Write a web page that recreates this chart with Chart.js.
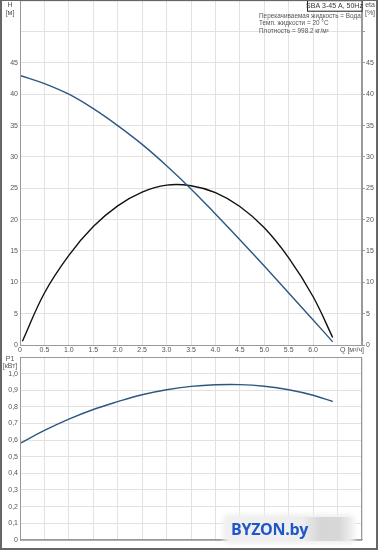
<!DOCTYPE html>
<html>
<head>
<meta charset="utf-8">
<script src="https://cdn.jsdelivr.net/npm/chart.js@4"></script>
<style>
  body{margin:0;background:#fff;}
  #wrap{position:relative;width:378px;height:550px;overflow:hidden;background:#fff;}
  #top{position:absolute;left:0;top:0;}
  #bot{position:absolute;left:0;top:350px;}
  #frame{position:absolute;left:0;top:0;width:374px;height:547px;border:2px solid #666;border-top-width:1px;pointer-events:none;}
  #mark{position:absolute;left:226px;top:517px;width:126px;height:24px;
    background:linear-gradient(90deg,#f0f0f0 0%,#eeeeee 60%,#d6d6d6 75%,#d8d8d8 90%,#efefef 100%);
    box-shadow:0 0 5px 3px #f0f0f0;border-radius:3px;}
  #mark span{position:absolute;left:5px;top:1px;font:bold 16px "Open Sans",sans-serif;color:#1f57c9;letter-spacing:-0.3px;}
</style>
</head>
<body>
<div id="wrap">
  <canvas id="top" width="378" height="361"></canvas>
  <canvas id="bot" width="378" height="196"></canvas>
  <div id="mark"><span>BYZON.by</span></div>
  <div id="frame"></div>
</div>
<script>
// pump curves SBA 3-45 A, 50Hz
const qH     = [0, 0.5, 1.0, 1.5, 2.0, 2.5, 3.0, 3.5, 4.0, 4.5, 5.0, 5.5, 6.0, 6.4];
const headM  = [43, 41.7, 40.0, 37.7, 35.0, 32.0, 28.6, 24.9, 20.9, 16.8, 12.6, 8.3, 4.0, 0.5];

const qEta   = [0.05, 0.5, 1.0, 1.5, 2.0, 2.5, 3.0, 3.5, 4.0, 4.5, 5.0, 5.5, 6.0, 6.4];
const etaPct = [0.6, 8.3, 14.3, 18.9, 22.2, 24.4, 25.5, 25.4, 24.3, 22.1, 18.7, 13.9, 7.7, 1.2];

const qP     = [0, 0.5, 1.0, 1.5, 2.0, 2.5, 3.0, 3.5, 4.0, 4.5, 5.0, 5.5, 6.0, 6.4];
const powerKw= [0.58, 0.658, 0.726, 0.784, 0.831, 0.873, 0.903, 0.923, 0.933, 0.934, 0.924, 0.903, 0.870, 0.832];

const infoLines = ["Перекачиваемая жидкость = Вода", "Темп. жидкости = 20 °C", "Плотность = 998.2 кг/м³"];

const FONT = "Liberation Sans";
const TXT = "#555";
const GRID = "#e2e2e2";
const AXIS = "#999";
const BLUE = "#2b5883";

const pts = (xs, ys)=>xs.map((x,i)=>({x, y: ys[i]}));
const tickFont = { family: FONT, size: 7 };

const frame = {
  id:"frame",
  afterDraw(c){
    const {ctx, chartArea:a} = c;
    ctx.save();
    ctx.strokeStyle = AXIS;
    ctx.lineWidth = 1;
    ctx.strokeRect(a.left+0.5, a.top+0.5, a.right-a.left-1, a.bottom-a.top);
    ctx.restore();
  }
};

// texts of the upper panel, placed from the top of the plot area
const topText = {
  id:"topText",
  afterDraw(c){
    const ctx = c.ctx;
    const t = c.chartArea.top;
    ctx.save();
    ctx.font = `7px ${FONT}`;
    ctx.fillStyle = TXT;
    ctx.textAlign = "center";
    ctx.textBaseline = "middle";
    ctx.fillText("H", 10, t+5);
    ctx.fillText("[м]", 10, t+13);
    ctx.fillText("eta", 370, t+5);
    ctx.fillText("[%]", 370, t+13);
    ctx.textAlign = "left";
    ctx.fillText("Q [м³/ч]", 340, c.chartArea.bottom+5);
    // header box
    ctx.fillStyle = "#fff";
    ctx.fillRect(307, t, 55, 11);
    ctx.strokeStyle = "#222";
    ctx.strokeRect(307.5, t+0.5, 54.5, 10.5);
    ctx.fillStyle = "#333";
    ctx.textAlign = "center";
    ctx.fillText("SBA 3-45 A, 50Hz", 334.5, t+6);
    ctx.textAlign = "left";
    ctx.fillStyle = TXT;
    ctx.font = `6.4px ${FONT}`;
    infoLines.forEach((s,i)=>ctx.fillText(s, 259, t + 16 + i*7.5));
    ctx.restore();
  }
};

const topChart = new Chart(document.getElementById("top"), {
  type:"line",
  data:{
    datasets:[
      { data: pts(qH, headM), borderColor: BLUE, borderWidth: 1.4, pointRadius: 0, tension: 0.4, yAxisID:"y" },
      { data: pts(qEta, etaPct), borderColor: "#111", borderWidth: 1.4, pointRadius: 0, tension: 0.4, yAxisID:"y2" }
    ]
  },
  options:{
    responsive:false, animation:false,
    layout:{ padding:0 },
    plugins:{ legend:{ display:false }, tooltip:{ enabled:false } },
    scales:{
      x:{
        type:"linear", min:0, max:7,
        ticks:{ stepSize:0.5, font:tickFont, color:TXT, padding:1, maxRotation:0, autoSkip:false,
          callback:(v)=> v>=6.5 ? "" : (v===0 ? "0" : v.toFixed(1)) },
        grid:{ color:GRID, tickLength:0 },
        border:{ color:AXIS },
        afterFit(s){ s.height = 10; }
      },
      y:{
        position:"left", min:0, max:55,
        ticks:{ stepSize:5, font:tickFont, color:TXT, padding:2, callback:(v)=> v<=45 ? v : "" },
        grid:{ color:GRID, tickLength:0 },
        border:{ color:AXIS },
        afterFit(s){ s.width = 20; }
      },
      y2:{
        position:"right", min:0, max:55,
        ticks:{ stepSize:5, font:tickFont, color:TXT, padding:1, callback:(v)=> v<=45 ? v : "" },
        grid:{ drawOnChartArea:false, color:AXIS, tickLength:3 },
        border:{ color:AXIS },
        afterFit(s){ s.width = 16; }
      }
    }
  },
  plugins:[frame, topText]
});
// pull the canvas up so the plot area starts at the top edge
document.getElementById("top").style.top = (-topChart.chartArea.top) + "px";

const botText = {
  id:"botText",
  afterDraw(c){
    const ctx = c.ctx;
    ctx.save();
    ctx.font = `7px ${FONT}`;
    ctx.fillStyle = TXT;
    ctx.textAlign = "center";
    ctx.textBaseline = "middle";
    ctx.fillText("P1", 10, 9);
    ctx.fillText("[кВт]", 10, 16);
    ctx.restore();
  }
};

new Chart(document.getElementById("bot"), {
  type:"line",
  data:{
    datasets:[
      { data: pts(qP, powerKw), borderColor: BLUE, borderWidth: 1.4, pointRadius: 0, tension: 0.4 }
    ]
  },
  options:{
    responsive:false, animation:false,
    layout:{ padding:{ top:7, right:16, left:0, bottom:0 } },
    plugins:{ legend:{ display:false }, tooltip:{ enabled:false } },
    scales:{
      x:{
        type:"linear", min:0, max:7,
        ticks:{ display:false, stepSize:0.5 },
        grid:{ color:GRID, tickLength:0 },
        border:{ color:AXIS },
        afterFit(s){ s.height = 2; }
      },
      y:{
        position:"left", min:0, max:1.1,
        afterBuildTicks(s){ s.ticks = [0,1,2,3,4,5,6,7,8,9,10,11].map(i=>({ value: i/10 })); },
        ticks:{ font:tickFont, color:TXT, padding:2,
          callback:(v)=> v>1.05 ? "" : (v===0 ? "0" : v.toFixed(1).replace(".", ",")) },
        grid:{ color:GRID, tickLength:0 },
        border:{ color:AXIS },
        afterFit(s){ s.width = 20; }
      }
    }
  },
  plugins:[frame, botText]
});
</script>
</body>
</html>
